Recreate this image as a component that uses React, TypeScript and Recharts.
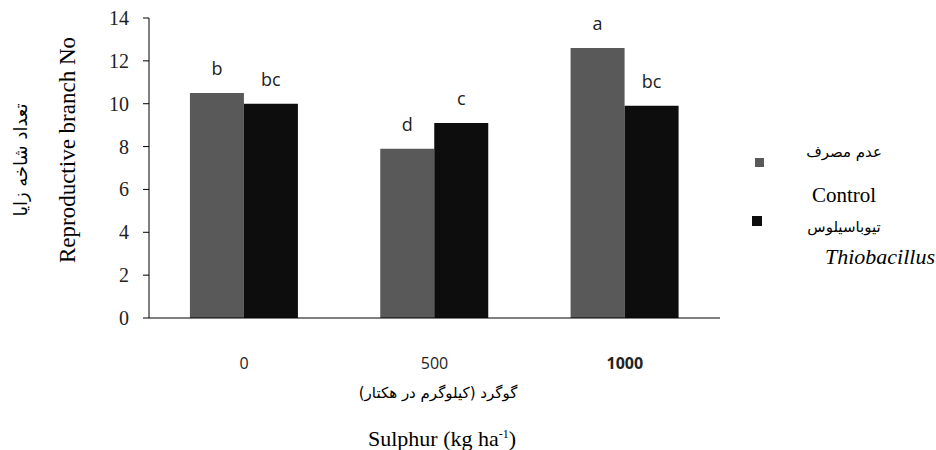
import { BarChart, Bar, XAxis, YAxis, LabelList } from 'recharts'

const categories = ['0', '500', '1000']
const controlValues = [10.5, 7.9, 12.6]
const thioValues = [10.0, 9.1, 9.9]
const controlLetters = ['b', 'd', 'a']
const thioLetters = ['bc', 'c', 'bc']
const yTicks = [0, 2, 4, 6, 8, 10, 12, 14]
const seriesFa = ['عدم مصرف', 'تیوباسیلوس']
const seriesEn = ['Control', 'Thiobacillus']
const seriesColors = ['#595959', '#0d0d0d']

const data = categories.map((name, i) => ({
  name,
  control: controlValues[i],
  thio: thioValues[i],
  cl: controlLetters[i],
  tl: thioLetters[i],
}))
// category boundaries for the outer tick marks
const edgeTicks = [0, ...categories.map((_, i) => i + 1)]

const serif = '"Liberation Serif", "Times New Roman", serif'
const sans = '"Open Sans", "DejaVu Sans", sans-serif'
const farsi = '"DejaVu Sans", sans-serif'

function XTick({ x, y, payload }: any) {
  return (
    <text x={x} y={y} dy={14} textAnchor="middle" fontSize={16} fontFamily={sans}
      fontWeight={payload.value === '1000' ? 700 : 400} fill="#222">
      {payload.value}
    </text>
  )
}

function YTick({ x, y, payload }: any) {
  return (
    <text x={x} y={y} dy={7} textAnchor="end" fontSize={20} fontFamily={serif} fill="#222">
      {payload.value}
    </text>
  )
}

export default function App() {
  return (
    <div style={{ position: 'absolute', left: 0, top: 0, width: 936, height: 450, background: '#fff' }}>
      <BarChart width={936} height={450} data={data}
        margin={{ top: 18, right: 216, bottom: 92, left: 0 }}
        barGap={0} barCategoryGap="21.5%">
        <XAxis xAxisId="a" type="number" domain={[0, categories.length]} ticks={edgeTicks}
          tick={false} tickSize={7} height={1} stroke="#000" allowDataOverflow />
        <XAxis xAxisId="b" dataKey="name" axisLine={false} tickLine={false} height={39}
          tick={<XTick />} tickMargin={30} />
        <YAxis domain={[0, 14]} ticks={yTicks} interval={0} width={149} tickSize={6} tickMargin={14}
          stroke="#000" tick={<YTick />} />
        <Bar xAxisId="b" dataKey="control" name="Control" fill={seriesColors[0]} isAnimationActive={false}>
          <LabelList dataKey="cl" position="top" offset={18} fontSize={18} fontFamily={sans} fill="#222" />
        </Bar>
        <Bar xAxisId="b" dataKey="thio" name="Thiobacillus" fill={seriesColors[1]} isAnimationActive={false}>
          <LabelList dataKey="tl" position="top" offset={18} fontSize={18} fontFamily={sans} fill="#222" />
        </Bar>
      </BarChart>

      {/* legend */}
      <div style={{ position: 'absolute', left: 740, top: 134, width: 196 }}>
        {seriesFa.map((fa, i) => (
          <div key={i} style={{ position: 'absolute', left: 0, top: i * 76, width: 196 }}>
            <div style={{ position: 'absolute', left: i === 0 ? 15 : 12, top: i === 0 ? 24 : 6,
              width: i === 0 ? 9 : 10, height: i === 0 ? 9 : 10, background: seriesColors[i] }} />
            <div dir="rtl" style={{ position: 'absolute', left: 60, width: 88, top: i === 0 ? 9 : 8, textAlign: 'center',
              fontFamily: farsi, fontSize: 15, color: '#000' }}>{fa}</div>
            <div style={{ position: 'absolute', left: i === 0 ? 60 : 0, width: i === 0 ? 88 : 195, top: i === 0 ? 49 : 34,
              textAlign: i === 0 ? 'center' : 'right', fontFamily: serif, fontSize: i === 0 ? 21 : 22,
              fontStyle: i === 0 ? 'normal' : 'italic', color: '#000' }}>{seriesEn[i]}</div>
          </div>
        ))}
      </div>

      <div style={{ position: 'absolute', left: 68, top: 150, transform: 'translate(-50%, -50%) rotate(-90deg)',
        whiteSpace: 'nowrap', fontFamily: serif, fontSize: 23, color: '#000' }}>
        Reproductive branch No
      </div>
      <div dir="rtl" style={{ position: 'absolute', left: 20, top: 160, transform: 'translate(-50%, -50%) rotate(-90deg)',
        whiteSpace: 'nowrap', fontFamily: farsi, fontSize: 18, color: '#000' }}>
        تعداد شاخه زایا
      </div>
      <div dir="rtl" style={{ position: 'absolute', left: 438, top: 393, transform: 'translate(-50%, -50%)',
        whiteSpace: 'nowrap', fontFamily: farsi, fontSize: 15, color: '#000' }}>
        گوگرد (کیلوگرم در هکتار)
      </div>
      <div style={{ position: 'absolute', left: 442, top: 439, transform: 'translate(-50%, -50%)',
        whiteSpace: 'nowrap', fontFamily: serif, fontSize: 22, color: '#000' }}>
        Sulphur (kg ha<sup style={{ fontSize: 12 }}>-1</sup>)
      </div>
    </div>
  )
}
